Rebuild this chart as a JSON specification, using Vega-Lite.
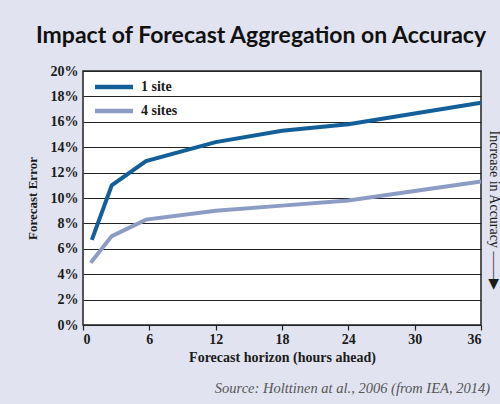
{
  "$schema": "https://vega.github.io/schema/vega-lite/v6.json",
  "width": 398,
  "height": 254,
  "autosize": "none",
  "padding": {"left": 83, "top": 71, "right": 19, "bottom": 79},
  "background": "#e1e4f0",
  "title": {
    "text": "Impact of Forecast Aggregation on Accuracy",
    "font": "Lato",
    "fontSize": 23,
    "fontWeight": "bold",
    "color": "#111111",
    "anchor": "middle",
    "dx": -21,
    "offset": 16
  },
  "config": {
    "view": {"fill": "white", "stroke": "#222222", "strokeWidth": 1.5},
    "axisRight": {"titleFont": "Liberation Serif", "titleFontWeight": 400}
  },
  "layer": [
    {
      "data": {
        "values": [
          {"hour": 0.8, "error": 0.067, "series": "1 site"},
          {"hour": 2.6, "error": 0.110, "series": "1 site"},
          {"hour": 5.7, "error": 0.129, "series": "1 site"},
          {"hour": 12, "error": 0.144, "series": "1 site"},
          {"hour": 18, "error": 0.153, "series": "1 site"},
          {"hour": 24, "error": 0.158, "series": "1 site"},
          {"hour": 36, "error": 0.175, "series": "1 site"},
          {"hour": 0.7, "error": 0.049, "series": "4 sites"},
          {"hour": 2.6, "error": 0.070, "series": "4 sites"},
          {"hour": 5.7, "error": 0.083, "series": "4 sites"},
          {"hour": 12, "error": 0.090, "series": "4 sites"},
          {"hour": 18, "error": 0.094, "series": "4 sites"},
          {"hour": 24, "error": 0.098, "series": "4 sites"},
          {"hour": 36, "error": 0.113, "series": "4 sites"}
        ]
      },
      "mark": {"type": "line", "strokeWidth": 4},
      "encoding": {
        "x": {
          "field": "hour",
          "type": "quantitative",
          "scale": {"domain": [0, 36], "nice": false},
          "axis": {
            "values": [0, 6, 12, 18, 24, 30, 36],
            "grid": false,
            "domain": false,
            "ticks": true,
            "tickSize": 5,
            "tickColor": "#222222",
            "tickWidth": 1.2,
            "labelFont": "Liberation Serif",
            "labelFontWeight": "bold",
            "labelFontSize": 14,
            "labelColor": "#1b1b1b",
            "labelPadding": 2,
            "title": "Forecast horizon (hours ahead)",
            "titleFont": "Liberation Serif",
            "titleFontWeight": "bold",
            "titleFontSize": 14,
            "titleColor": "#1b1b1b",
            "titlePadding": 4
          }
        },
        "y": {
          "field": "error",
          "type": "quantitative",
          "scale": {"domain": [0, 0.2], "nice": false},
          "axis": {
            "values": [0, 0.02, 0.04, 0.06, 0.08, 0.1, 0.12, 0.14, 0.16, 0.18, 0.2],
            "format": ".0%",
            "grid": true,
            "gridColor": "#222222",
            "gridWidth": 1.2,
            "gridOpacity": 1,
            "domain": false,
            "ticks": false,
            "labelFont": "Liberation Serif",
            "labelFontWeight": "bold",
            "labelFontSize": 14,
            "labelColor": "#1b1b1b",
            "labelPadding": 5,
            "title": "Forecast Error",
            "titleFont": "Liberation Serif",
            "titleFontWeight": "bold",
            "titleFontSize": 13,
            "titleColor": "#1b1b1b",
            "titlePadding": 11
          }
        },
        "color": {
          "field": "series",
          "type": "nominal",
          "scale": {"domain": ["1 site", "4 sites"], "range": ["#135f99", "#8c9cc5"]},
          "legend": {
            "title": null,
            "orient": "none",
            "legendX": 19,
            "legendY": 4,
            "symbolType": "M-2,0H2",
            "symbolSize": 361,
            "symbolStrokeWidth": 4.5,
            "labelFont": "Liberation Serif",
            "labelFontWeight": "bold",
            "labelFontSize": 14,
            "labelColor": "#1b1b1b",
            "labelOffset": 15,
            "rowPadding": 3
          }
        }
      }
    },
    {
      "data": {"values": [{"hour": 36, "error": -0.05, "label": "Source: Holttinen at al., 2006 (from IEA, 2014)"}]},
      "mark": {
        "type": "text",
        "align": "right",
        "baseline": "middle",
        "dx": 9,
        "font": "Liberation Serif",
        "fontStyle": "italic",
        "fontSize": 14.5,
        "color": "#555555"
      },
      "encoding": {
        "x": {"field": "hour", "type": "quantitative", "scale": {"domain": [0, 36], "nice": false}},
        "y": {
          "field": "error",
          "type": "quantitative",
          "scale": {"domain": [0, 0.2], "nice": false},
          "axis": {
            "orient": "right",
            "labels": false,
            "ticks": false,
            "domain": false,
            "grid": false,
            "title": "Increase in Accuracy ——▶",
            "titleAngle": 90,
            "titleFont": "Liberation Serif",
            "titleFontSize": 14,
            "titleColor": "#1b1b1b",
            "titleY": 139,
            "titlePadding": 5
          }
        },
        "text": {"field": "label"}
      }
    }
  ],
  "resolve": {"axis": {"y": "independent"}}
}
